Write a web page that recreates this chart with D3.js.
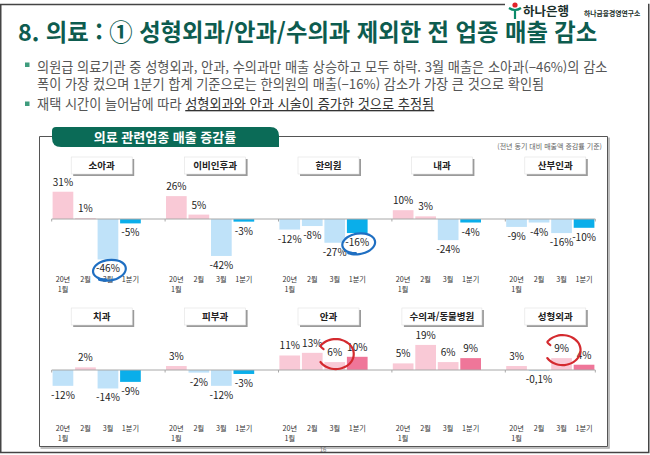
<!DOCTYPE html>
<html lang="ko">
<head>
<meta charset="UTF-8">
<title>의료 관련업종 매출 증감률</title>
<style>
  body { margin: 0; background: #fff; }
  svg { display: block; font-family: "Noto Sans CJK KR", "Noto Sans", sans-serif; }
</style>
</head>
<body>
<svg width="650" height="455"></svg>
<script src="https://d3js.org/d3.v7.min.js"></script>
<script>
// 업종 (위 5개 / 아래 5개)
var categories = ["소아과", "이비인후과", "한의원", "내과", "산부인과",
                  "치과", "피부과", "안과", "수의과/동물병원", "성형외과"];
var monthLabels = [["20년", "1월"], ["2월"], ["3월"], ["1분기"]];

// 전년 동기 대비 매출액 증감률 (%)
var janValues = [31, 26, -12, 10, -9, -12, 3, 11, 5, 3];
var febValues = [1, 5, -8, 3, -4, 2, -2, 13, 19, -0.1];
var marValues = [-46, -42, -27, -24, -16, -14, -12, 6, 6, 9];
var q1Values  = [-5, -3, -16, -4, -10, -9, -3, 10, 9, 4];

// 손으로 그린 강조 표시
var circled = [
  {cat: "소아과", month: 2, kind: "loop", color: "#1f6fc2"},
  {cat: "한의원", month: 3, kind: "loop", color: "#1f6fc2"},
  {cat: "안과", month: 2, kind: "hook", color: "#d42a2f"},
  {cat: "성형외과", month: 2, kind: "hook", color: "#d42a2f"}
];

var series = [janValues, febValues, marValues, q1Values];
var svg = d3.select("svg");

// ---- 슬라이드 테두리 ----
svg.append("rect").attr("x", 0.75).attr("y", 4.5).attr("width", 648).attr("height", 448)
  .attr("fill", "none").attr("stroke", "#444").attr("stroke-width", 1.5);

// ---- 로고 ----
var logo = svg.append("g");
logo.append("rect").attr("x", 505).attr("y", 0).attr("width", 143).attr("height", 20).attr("fill", "#fff");
logo.append("circle").attr("cx", 515).attr("cy", 5).attr("r", 2.6).attr("fill", "#e2232a");
logo.append("path").attr("d", "M509,8 Q515,12 521,8 M515,10 L515,19")
  .attr("fill", "none").attr("stroke", "#0b8a6a").attr("stroke-width", 2.2);
logo.append("text").attr("x", 523).attr("y", 16).attr("font-size", 12.5).attr("font-weight", "bold")
  .attr("fill", "#1b2f2a").text("하나은행");
logo.append("text").attr("x", 584).attr("y", 15.5).attr("font-size", 6.8).attr("font-weight", "bold")
  .attr("fill", "#1b2f2a").text("하나금융경영연구소");

// ---- 제목 ----
svg.append("text").attr("x", 18).attr("y", 41).attr("font-size", 23.3).attr("font-weight", "bold")
  .attr("fill", "#0d5c4f").text("8. 의료 : ① 성형외과/안과/수의과 제외한 전 업종 매출 감소");

// ---- 본문 ----
var body = svg.append("g").attr("font-size", 13.2).attr("fill", "#555");
[62.5, 101.5].forEach(function(y) {
  body.append("rect").attr("x", 25).attr("y", y).attr("width", 4.5).attr("height", 4.5).attr("fill", "#3e9c7d");
});
body.append("text").attr("x", 37).attr("y", 71.5)
  .text("의원급 의료기관 중 성형외과, 안과, 수의과만 매출 상승하고 모두 하락. 3월 매출은 소아과(−46%)의 감소");
body.append("text").attr("x", 37).attr("y", 88.5)
  .text("폭이 가장 컸으며 1분기 합계 기준으로는 한의원의 매출(−16%) 감소가 가장 큰 것으로 확인됨");
var l3 = body.append("text").attr("x", 37).attr("y", 109);
l3.append("tspan").text("재택 시간이 늘어남에 따라 ");
l3.append("tspan").attr("fill", "#333").attr("text-decoration", "underline")
  .text("성형외과와 안과 시술이 증가한 것으로 추정됨");

// ---- 차트 패널 ----
var panel = {left: 39.5, right: 607.5, top: 136.5, bottom: 446.5};
svg.append("path")
  .attr("d", "M52," + panel.top + " H" + panel.left + " V" + panel.bottom + " H" + panel.right +
             " V" + panel.top + " H279")
  .attr("fill", "none").attr("stroke", "#555").attr("stroke-width", 1);
svg.append("path")
  .attr("d", "M" + (panel.left + 1) + "," + (panel.bottom + 1.5) + " H" + (panel.right + 1.5) +
             " V" + (panel.top + 1))
  .attr("fill", "none").attr("stroke", "#aaa").attr("stroke-width", 1.5);

// 탭 제목
svg.append("path")
  .attr("d", "M52,131 Q52,127 56,127 H270 Q279,127 279,136 V147 H61 Q52,147 52,138 Z")
  .attr("fill", "#0b6b57");
svg.append("text").attr("x", 165).attr("y", 142).attr("text-anchor", "middle")
  .attr("font-size", 13).attr("font-weight", "bold").attr("fill", "#fff").text("의료 관련업종 매출 증감률");
svg.append("text").attr("x", 602).attr("y", 149).attr("text-anchor", "end")
  .attr("font-size", 7).attr("fill", "#666").text("(전년 동기 대비 매출액 증감률 기준)");

// 페이지 번호
svg.append("text").attr("x", 323).attr("y", 452).attr("text-anchor", "middle")
  .attr("font-size", 6).attr("fill", "#777").text("16");

// ---- 막대 ----
var rows = [
  {cats: categories.slice(0, 5), base: 219, k: 0.88, boxY: 157, tickY: 282},
  {cats: categories.slice(5), base: 370, k: 1.32, boxY: 308, tickY: 431}
];

var col = d3.scaleBand().range([panel.left + 0.5, panel.right - 0.5]);
var inner = d3.scaleBand().domain(d3.range(4)).paddingInner(0.08).paddingOuter(0.04);
var fmt = function(v) { return String(v).replace(".", ",") + "%"; };
function barColor(m, v) {
  if (m === 3) return v >= 0 ? "#ef7699" : "#0aaeea";
  return v >= 0 ? "#f9c9d6" : "#bfe2f9";
}

var labelPos = {};

rows.forEach(function(row) {
  col.domain(row.cats);
  var gOff = col.bandwidth() / 2 - 45;
  inner.range([gOff, gOff + 90]);
  var y = d3.scaleLinear().domain([0, 10]).range([row.base, row.base - 10 * row.k]);
  var g = svg.append("g");

  // 업종 제목 상자
  row.cats.forEach(function(c) {
    var cx = col(c) + col.bandwidth() / 2 + 5;
    var w = c.length > 5 ? 80 : 61;
    g.append("rect").attr("x", cx - w / 2 + 2).attr("y", row.boxY + 2).attr("width", w).attr("height", 17)
      .attr("fill", "#9a9a9a");
    g.append("rect").attr("x", cx - w / 2).attr("y", row.boxY).attr("width", w).attr("height", 17)
      .attr("fill", "#fff").attr("stroke", "#e2e2e2").attr("stroke-width", 0.6);
    g.append("text").attr("x", cx).attr("y", row.boxY + 12.3).attr("text-anchor", "middle")
      .attr("font-size", 9.5).attr("font-weight", "bold").attr("fill", "#222").text(c);
  });

  // 막대
  row.cats.forEach(function(c) {
    var i = categories.indexOf(c);
    series.forEach(function(vals, m) {
      var v = vals[i];
      var x = col(c) + inner(m);
      var bx = x + inner.bandwidth() / 2;
      g.append("rect")
        .attr("x", x).attr("width", inner.bandwidth())
        .attr("y", Math.min(y(v), y(0))).attr("height", Math.max(Math.abs(y(v) - y(0)), 1))
        .attr("fill", barColor(m, v));
      var ly = v >= 0 ? y(v) - 6 : y(v) + 13;
      g.append("text").attr("x", bx).attr("y", ly).attr("text-anchor", "middle")
        .attr("font-size", 10).attr("fill", "#222").text(fmt(v));
      labelPos[c + "|" + m] = {x: bx, y: ly - 3.5};
    });
  });

  // 기준선
  var x0 = col(row.cats[0]) + gOff;
  var x1 = col(row.cats[row.cats.length - 1]) + gOff + 90;
  g.append("line").attr("x1", x0).attr("x2", x1).attr("y1", y(0)).attr("y2", y(0))
    .attr("stroke", "#a8a8a8").attr("stroke-width", 1);
  row.cats.concat([null]).forEach(function(c) {
    var tx = c ? col(c) + gOff : x1;
    g.append("line").attr("x1", tx).attr("x2", tx).attr("y1", y(0)).attr("y2", y(0) + 2.5)
      .attr("stroke", "#a8a8a8");
  });

  // 월 눈금 라벨
  row.cats.forEach(function(c) {
    monthLabels.forEach(function(lines, m) {
      var t = g.append("text").attr("x", col(c) + inner(m) + inner.bandwidth() / 2)
        .attr("y", row.tickY).attr("text-anchor", "middle").attr("font-size", 7.2).attr("fill", "#333");
      lines.forEach(function(s, j) {
        t.append("tspan").attr("x", col(c) + inner(m) + inner.bandwidth() / 2)
          .attr("dy", j ? 10 : 0).text(s);
      });
    });
  });
});

// ---- 강조 표시 ----
var pen = d3.line().curve(d3.curveCatmullRom);
circled.forEach(function(a) {
  var p = labelPos[a.cat + "|" + a.month];
  var pts = [];
  if (a.kind === "loop") {
    var rx = 15.5, ry = 9.5, cx = p.x + 1, cy = p.y + 1;
    for (var t = 0.55 * Math.PI; t <= 2.75 * Math.PI; t += Math.PI / 14) {
      var s = 1 + 0.06 * (t - 0.55 * Math.PI) / Math.PI;
      pts.push([cx + rx * s * Math.cos(t), cy + ry * s * Math.sin(t) - 1.5 * Math.cos(t)]);
    }
  } else {
    var rx2 = 18, ry2 = 15, cx2 = p.x + 1, cy2 = p.y + 1.5;
    for (var u = 1.18 * Math.PI; u <= 2.85 * Math.PI; u += Math.PI / 14) {
      pts.push([cx2 + rx2 * Math.cos(u), cy2 + ry2 * Math.sin(u)]);
    }
    pts.unshift([pts[0][0] + 3, pts[0][1] + 3]);
  }
  svg.append("path").attr("d", pen(pts)).attr("fill", "none")
    .attr("stroke", a.color).attr("stroke-width", 2.2).attr("stroke-linecap", "round");
});
</script>
</body>
</html>
